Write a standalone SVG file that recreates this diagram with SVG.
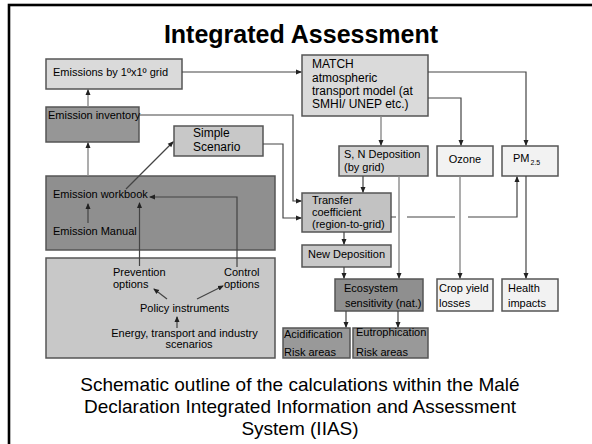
<svg xmlns="http://www.w3.org/2000/svg" width="592" height="444" viewBox="0 0 592 444">
<style>
text{font-family:"Liberation Sans",Arial,sans-serif;fill:#000}
.t{font-size:11px}
.m{font-size:12px}
.b{stroke:#555;stroke-width:1.5}
.c{fill:none;stroke:#444;stroke-width:1.2}
.g{fill:none;stroke:#8a8a8a;stroke-width:1.4}
</style>
<defs>
<marker id="ah" markerWidth="6" markerHeight="6" refX="5" refY="3" orient="auto" markerUnits="userSpaceOnUse"><path d="M0,0.5 L6,3 L0,5.5 z" fill="#222"/></marker>
</defs>
<rect x="0" y="0" width="592" height="444" fill="#fff"/>
<rect x="9" y="5" width="620" height="460" fill="none" stroke="#000" stroke-width="2.6"/>
<text x="301" y="43" text-anchor="middle" font-size="25" font-weight="bold">Integrated Assessment</text>

<g id="grid">
<rect class="b" x="46" y="59" width="136" height="30" fill="#dadada"/>
<text class="t" x="53" y="76">Emissions by 1ºx1º grid</text>
</g>
<g id="inventory">
<rect class="b" x="46" y="107" width="93" height="35" fill="#969696"/>
<text class="t" x="48" y="119">Emission inventory</text>
</g>
<g id="scenario">
<rect class="b" x="174" y="126" width="89" height="30" fill="#c8c8c8"/>
<text class="m" x="193" y="137">Simple</text>
<text class="m" x="193" y="151">Scenario</text>
</g>
<g id="workbook">
<rect class="b" x="46" y="176" width="229" height="74" fill="#8f8f8f"/>
<text class="t" x="53" y="198">Emission workbook</text>
<text class="t" x="53" y="235">Emission Manual</text>
</g>
<g id="policy">
<rect class="b" x="46" y="258" width="229" height="100" fill="#c8c8c8"/>
<text class="t" x="113" y="276">Prevention</text>
<text class="t" x="113" y="288">options</text>
<text class="t" x="224" y="276">Control</text>
<text class="t" x="224" y="288">options</text>
<text class="t" x="140" y="312">Policy instruments</text>
<text class="t" x="184.5" y="337" text-anchor="middle">Energy, transport and industry</text>
<text class="t" x="189" y="348" text-anchor="middle">scenarios</text>
</g>
<g id="match">
<rect class="b" x="302" y="55" width="126" height="61" fill="#dadada"/>
<text class="m" x="312" y="68">MATCH</text>
<text class="m" x="312" y="81.5">atmospheric</text>
<text class="m" x="312" y="95">transport model (at</text>
<text class="m" x="312" y="108">SMHI/ UNEP etc.)</text>
</g>
<g id="sndep">
<rect class="b" x="339" y="146" width="89" height="30" fill="#d2d2d2"/>
<text class="t" x="344" y="158">S, N Deposition</text>
<text class="t" x="344" y="171">(by grid)</text>
</g>
<g id="ozone">
<rect class="b" x="437" y="146" width="56" height="30" fill="#f2f2f2"/>
<text class="t" x="465" y="162.5" text-anchor="middle">Ozone</text>
</g>
<g id="pm25">
<rect class="b" x="502" y="146" width="56" height="30" fill="#f2f2f2"/>
<text class="t" x="513" y="162">PM<tspan font-size="7" dx="1" dy="3">2.5</tspan></text>
</g>
<g id="transfer">
<rect class="b" x="302" y="193" width="89" height="39" fill="#c2c2c2"/>
<text class="t" x="312" y="204">Transfer</text>
<text class="t" x="312" y="216">coefficient</text>
<text class="t" x="312" y="228">(region-to-grid)</text>
</g>
<g id="newdep">
<rect class="b" x="302" y="245" width="89" height="22" fill="#c8c8c8"/>
<text class="t" x="308" y="258">New Deposition</text>
</g>
<g id="ecosystem">
<rect class="b" x="335" y="279" width="88" height="32" fill="#8f8f8f"/>
<text class="t" x="344" y="292">Ecosystem</text>
<text class="t" x="345" y="307">sensitivity (nat.)</text>
</g>
<g id="crop">
<rect class="b" x="437" y="279" width="56" height="32" fill="#f2f2f2"/>
<text class="t" x="439" y="292">Crop yield</text>
<text class="t" x="439" y="307">losses</text>
</g>
<g id="health">
<rect class="b" x="502" y="279" width="56" height="32" fill="#f2f2f2"/>
<text class="t" x="508" y="292">Health</text>
<text class="t" x="508" y="307">impacts</text>
</g>
<g id="acid">
<rect class="b" x="283" y="328" width="67" height="30" fill="#999"/>
<text class="t" x="284" y="338">Acidification</text>
<text class="t" x="284" y="356">Risk areas</text>
</g>
<g id="eutro">
<rect class="b" x="353" y="328" width="75" height="30" fill="#999"/>
<text class="t" x="356" y="336">Eutrophication</text>
<text class="t" x="356" y="356">Risk areas</text>
</g>

<g id="connectors">
<path class="c" d="M182,72 H301" marker-end="url(#ah)"/>
<path class="g" d="M88,107 V90" marker-end="url(#ah)"/>
<path class="c" d="M139,115 H293 V201 H301" marker-end="url(#ah)"/>
<path class="g" d="M88,176 V143" marker-end="url(#ah)"/>
<path class="c" d="M88,223 V204" marker-end="url(#ah)"/>
<path class="c" d="M126,189 L173,142" marker-end="url(#ah)"/>
<path class="c" d="M263,144 H283 V218 H301" marker-end="url(#ah)"/>
<path class="c" d="M139.5,266 V203" marker-end="url(#ah)"/>
<path class="c" d="M237,267 V197 H150" marker-end="url(#ah)"/>
<path class="c" d="M167,299 L154,289" marker-end="url(#ah)"/>
<path class="c" d="M197,299 L223,286" marker-end="url(#ah)"/>
<path class="c" d="M177,328 V317" marker-end="url(#ah)"/>
<path class="g" d="M381,116 V145" marker-end="url(#ah)"/>
<path class="c" d="M428,98 H461 V145" marker-end="url(#ah)"/>
<path class="c" d="M428,72 H526 V145" marker-end="url(#ah)"/>
<path class="c" d="M363,176 V192" marker-end="url(#ah)"/>
<path class="g" d="M399,176 V278" marker-end="url(#ah)"/>
<path class="c" d="M344,232 V244" marker-end="url(#ah)"/>
<path class="c" d="M344,267 V278" marker-end="url(#ah)"/>
<path class="c" d="M391,217 H396 M407,217 H455"/>
<path class="c" d="M468,217 H517 V177" marker-end="url(#ah)"/>
<path class="g" d="M460,176 V278" marker-end="url(#ah)"/>
<path class="c" d="M526,176 V278" marker-end="url(#ah)"/>
<path class="c" d="M346,311 V327" marker-end="url(#ah)"/>
<path class="c" d="M398,311 V327" marker-end="url(#ah)"/>
</g>

<g id="caption" font-size="19">
<text x="300" y="391" text-anchor="middle">Schematic outline of the calculations within the Malé</text>
<text x="300" y="413" text-anchor="middle">Declaration Integrated Information and Assessment</text>
<text x="300" y="435" text-anchor="middle">System (IIAS)</text>
</g>
</svg>
